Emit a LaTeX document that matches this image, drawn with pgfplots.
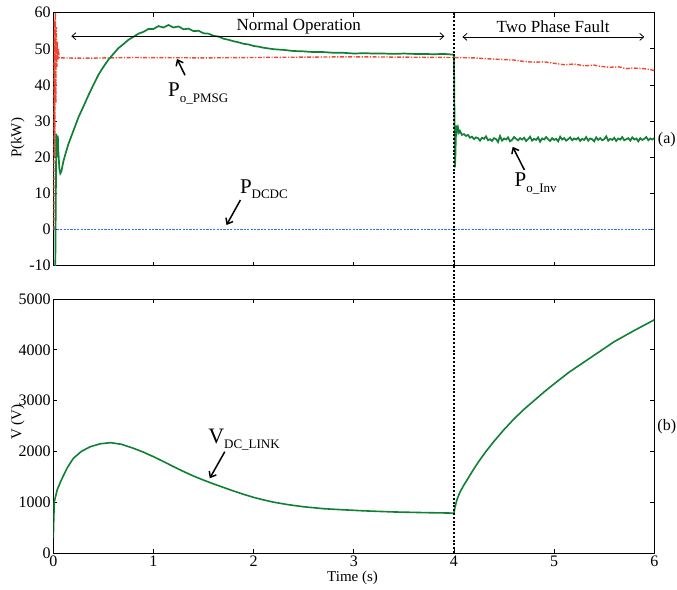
\documentclass[border=0pt]{standalone}
\usepackage{pgfplots}
\pgfplotsset{compat=1.18}
\usepackage{fontspec}
\setmainfont{Liberation Serif}
\usetikzlibrary{arrows.meta}
\definecolor{cgreen}{RGB}{16,128,52}
\definecolor{cred}{RGB}{240,70,50}
\definecolor{dcdcblue}{RGB}{40,115,255}
\newcommand{\sub}[1]{\raisebox{-0.55ex}{\fontsize{13}{14}\selectfont #1}}
\begin{document}
\begin{tikzpicture}
\useasboundingbox (0,0) rectangle (677pt,589pt);
\pgfplotsset{every axis/.append style={
  scale only axis, width=601pt,
  xmin=0, xmax=6, xtick={0,1,...,6},
  tick align=inside, major tick length=4pt,
  axis line style={line width=0.8pt}, every tick/.style={black,line width=0.7pt},
  tick label style={font=\fontsize{16}{18}\selectfont},
  /pgf/number format/assume math mode=true,
  yticklabel style={inner sep=2.5pt},
  xticklabel style={inner sep=3pt},
  label style={font=\fontsize{15}{18}\selectfont},
  clip mode=individual,
}}
% ---------------- top axis ----------------
\begin{axis}[at={(53.3pt,323.3pt)}, anchor=south west, height=253pt,
  ymin=-10, ymax=60, ytick={-10,0,...,60}, xticklabels={},
  ylabel={P(kW)}, ylabel style={at={(axis description cs:-0.059,0.505)}, anchor=center}]
\addplot[draw=dcdcblue, line width=1.2pt, dash pattern=on 2.2pt off 1.2pt] coordinates {(0,0) (6,0)};
\addplot[cred, line width=1.4pt, dash pattern=on 4pt off 1.5pt on 1.2pt off 1.5pt] coordinates {
(0.005,0) (0.01,58) (0.015,20) (0.02,60) (0.025,35) (0.03,56) (0.035,45) (0.04,52)
(0.045,47) (0.05,50) (0.06,47.5) (0.3,47.4) (0.8,47.6) (1.5,47.5) (2.0,47.6) (2.5,47.7)
(3.0,47.8) (3.5,47.7) (4.0,47.6) (4.2,47.5) (4.3,47.3) (4.45,47.1) (4.6,46.9) (4.7,46.5)
(4.8,46.3) (4.9,46.4) (5.0,46.0) (5.1,45.6) (5.2,45.8) (5.3,45.3) (5.4,45.5) (5.45,45.2)
(5.55,44.9) (5.65,45.0) (5.72,44.5) (5.78,44.7) (5.9,44.5) (5.95,44.3) (6.0,44.0)};
\addplot[cgreen, line width=1.7pt] coordinates {
(0.015,-12) (0.02,-10) (0.025,8) (0.03,26.5) (0.035,24) (0.04,20) (0.045,26) (0.05,22)
(0.06,17) (0.07,15.5) (0.08,16) (0.1,18.8) (0.12,20.8) (0.15,23.6) (0.2,27.3) (0.25,31.0)
(0.3,34.0) (0.35,37.1) (0.4,40.0) (0.45,42.8) (0.5,45.0) (0.55,47.0) (0.6,48.6) (0.65,50.2)
(0.7,51.3) (0.75,52.5) (0.8,53.3) (0.85,54.2) (0.9,54.7) (0.95,55.5) (1.0,55.5) (1.05,56.3)
(1.1,55.9) (1.15,56.6) (1.2,55.9) (1.25,56.2) (1.3,55.4) (1.35,55.6) (1.4,54.9) (1.45,55.0)
(1.5,54.3) (1.55,54.2) (1.6,53.6) (1.65,53.4) (1.7,52.8) (1.75,52.5) (1.8,52.1) (1.85,51.8)
(1.9,51.4) (1.95,51.2) (2.0,50.8) (2.05,50.6) (2.1,50.3) (2.15,50.1) (2.2,49.9) (2.3,49.7)
(2.4,49.4) (2.5,49.3) (2.6,49.1) (2.7,49.1) (2.8,48.9) (2.9,48.9) (3.0,48.7) (3.1,48.8)
(3.2,48.7) (3.3,48.7) (3.4,48.6) (3.5,48.7) (3.6,48.6) (3.7,48.6) (3.8,48.5) (3.9,48.6)
(3.99,48.4) (4.0,48.3) (4.005,32) (4.01,17.2) (4.015,21) (4.02,27.5) (4.025,28.8) (4.03,27)
(4.04,28.2) (4.05,26.8) (4.06,27.3) (4.08,26.2)
(4.10,26.4) (4.12,25.9) (4.14,26.2) (4.16,25.4) (4.18,25.7) (4.20,25.0) (4.22,25.5) (4.24,25.3)
(4.26,24.6) (4.28,25.4) (4.30,25.1) (4.32,25.8) (4.34,24.7) (4.36,25.0) (4.38,24.5) (4.40,25.3)
(4.42,25.0) (4.44,24.2) (4.46,25.9) (4.48,24.6) (4.50,25.2) (4.52,24.9) (4.54,25.5) (4.56,24.4)
(4.58,24.8) (4.60,25.6) (4.62,25.1) (4.64,24.7) (4.66,25.3) (4.68,24.9) (4.70,25.4) (4.72,24.5)
(4.74,25.0) (4.76,25.7) (4.78,24.6) (4.80,25.1) (4.82,24.8) (4.84,25.5) (4.86,24.3) (4.88,25.2)
(4.90,24.9) (4.92,25.6) (4.94,25.0) (4.96,24.5) (4.98,25.3) (5.00,24.8) (5.02,25.1) (5.04,24.4)
(5.06,25.7) (5.08,24.9) (5.10,25.3) (5.12,24.6) (5.14,25.0) (5.16,25.5) (5.18,24.7) (5.20,25.2)
(5.22,24.9) (5.24,25.4) (5.26,24.5) (5.28,25.1) (5.30,24.8) (5.32,25.6) (5.34,24.6) (5.36,25.2)
(5.38,25.0) (5.40,24.4) (5.42,25.5) (5.44,24.8) (5.46,25.3) (5.48,24.7) (5.50,25.0) (5.52,25.8)
(5.54,24.6) (5.56,25.1) (5.58,24.8) (5.60,25.4) (5.62,24.5) (5.64,25.2) (5.66,24.9) (5.68,25.6)
(5.70,24.7) (5.72,25.0) (5.74,25.3) (5.76,24.6) (5.78,25.5) (5.80,24.9) (5.82,25.2) (5.84,24.4)
(5.86,25.3) (5.88,24.8) (5.90,25.1) (5.92,25.6) (5.94,24.7) (5.96,25.2) (5.98,24.9) (6.00,25.3)};
\draw[black, line width=1.1pt, dash pattern=on 2pt off 1.8pt] (axis cs:4,60) -- (axis cs:4,-10);
% annotations
\draw[line width=0.8pt, {Straight Barb[length=4pt,width=7pt]}-{Straight Barb[length=4pt,width=7pt]}] (axis cs:0.18,53.5) -- (axis cs:3.905,53.5);
\draw[line width=0.8pt, {Straight Barb[length=4pt,width=7pt]}-{Straight Barb[length=4pt,width=7pt]}] (axis cs:4.085,53.3) -- (axis cs:5.90,53.3);
\node[font=\fontsize{17}{19}\selectfont, inner sep=0] at (axis cs:2.45,56.1) {Normal Operation};
\node[font=\fontsize{17}{19}\selectfont, inner sep=0] at (axis cs:4.99,56.1) {Two Phase Fault};
\draw[line width=1.5pt, -{Straight Barb[length=5pt,width=8pt]}] (axis cs:1.315,42.7) -- (axis cs:1.235,47.2);
\node[anchor=base west, inner sep=0, font=\fontsize{21}{22}\selectfont] at (axis cs:1.145,36.75) {P\sub{o\_PMSG}};
\draw[line width=1.5pt, -{Straight Barb[length=5pt,width=8pt]}] (axis cs:1.868,8.16) -- (axis cs:1.729,1.25);
\node[anchor=base west, inner sep=0, font=\fontsize{21}{22}\selectfont] at (axis cs:1.862,10.0) {P\sub{DCDC}};
\draw[line width=1.5pt, -{Straight Barb[length=5pt,width=8pt]}] (axis cs:4.703,16.5) -- (axis cs:4.586,22.9);
\node[anchor=base west, inner sep=0, font=\fontsize{21}{22}\selectfont] at (axis cs:4.603,11.85) {P\sub{o\_Inv}};
\node[font=\fontsize{16}{18}\selectfont, inner sep=0] at (axis cs:6.125,25) {(a)};
\end{axis}
% ---------------- bottom axis ----------------
\begin{axis}[at={(53.3pt,36pt)}, anchor=south west, height=254pt,
  ymin=0, ymax=5000, ytick={0,1000,...,5000},
  scaled y ticks=false, yticklabel style={/pgf/number format/.cd, set thousands separator={}},
  xlabel={Time (s)}, xlabel style={at={(axis description cs:0.498,0)}, anchor=center, yshift=-25pt},
  ylabel={V (V)}, ylabel style={at={(axis description cs:-0.059,0.516)}, anchor=center}]
\addplot[cgreen, line width=1.6pt] coordinates {
(0,300) (0.005,700) (0.01,1010) (0.04,1250) (0.08,1437) (0.14,1680) (0.2,1864) (0.28,2000)
(0.37,2093) (0.47,2150) (0.57,2172) (0.68,2140) (0.8,2061) (0.9,1985) (1.0,1896) (1.1,1800)
(1.2,1700) (1.3,1605) (1.4,1515) (1.5,1435) (1.6,1360) (1.7,1290) (1.8,1220) (1.9,1155)
(2.0,1095) (2.1,1045) (2.2,1000) (2.35,950) (2.5,910) (2.7,872) (2.9,850) (3.1,830) (3.4,808)
(3.7,795) (4.0,785) (4.01,900) (4.03,1050) (4.06,1200) (4.1,1340) (4.15,1500) (4.2,1660)
(4.25,1810) (4.32,2000) (4.4,2200) (4.5,2430) (4.6,2640) (4.7,2830) (4.8,3000) (4.9,3170)
(5.0,3330) (5.15,3560) (5.3,3760) (5.45,3960) (5.6,4160) (5.8,4380) (6.0,4590)};
\draw[black, line width=1.1pt, dash pattern=on 2pt off 1.8pt] (axis cs:4,0) -- (axis cs:4,5680);
\draw[line width=1.5pt, -{Straight Barb[length=5pt,width=8pt]}] (axis cs:1.712,1994) -- (axis cs:1.562,1470);
\node[anchor=base west, inner sep=0, font=\fontsize{22}{23}\selectfont] at (axis cs:1.545,2159) {V\sub{DC\_LINK}};
\node[font=\fontsize{16}{18}\selectfont, inner sep=0] at (axis cs:6.125,2486) {(b)};
\end{axis}
\end{tikzpicture}
\end{document}
